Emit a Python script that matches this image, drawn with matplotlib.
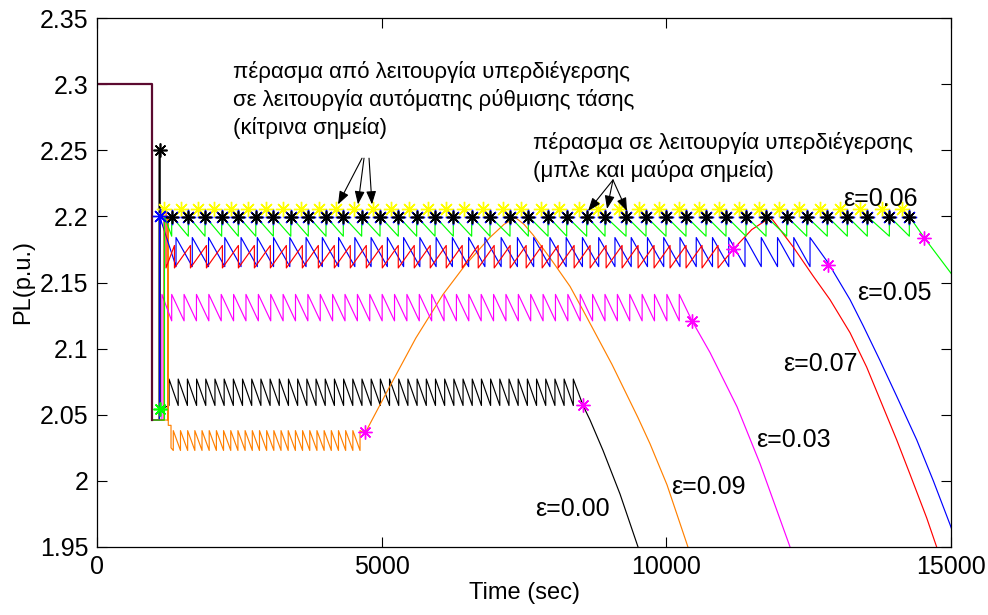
import numpy as np
import matplotlib
matplotlib.use("Agg")
import matplotlib.pyplot as plt

plt.rcParams['font.family'] = ['Liberation Sans', 'DejaVu Sans']

# ---------------- data ----------------
COMMON_T = [0, 966, 966]
COMMON_V = [2.3, 2.3, 2.046]

# black / blue star times (tap changes at ~2.2) and yellow star times
STAR_T = [1312, 1604, 1897, 2190, 2482, 2789, 3097, 3404, 3711, 4022,
          4326, 4649, 4971, 5292, 5615, 5937, 6258, 6581, 6903, 7254,
          7576, 7922, 8250, 8601, 8923, 9292, 9643, 9994, 10345, 10697,
          11048, 11399, 11751, 12114, 12466, 12827, 13179, 13530, 13917, 14268]
STAR_V = 2.1996
YELLOW_T = [1182, 1474, 1767, 2060, 2352, 2659, 2967, 3274, 3581, 3892,
            4196, 4519, 4841, 5162, 5485, 5807, 6128, 6451, 6773, 7124,
            7446, 7792, 8120, 8471, 8793, 9162, 9513, 9864, 10215, 10567,
            10918, 11269, 11621, 11984, 12336, 12697, 13049, 13400, 13787, 14138]
YELLOW_V = 2.2056

# eps = 0.00 (black)
E00_PRE_T = [1090, 1090, 1110, 1110]
E00_PRE_V = [2.046, 2.25, 2.25, 2.054]
E00_TEETH = (1265, 8366, 45)
E00_BAND = (2.057, 2.077)
E00_TAIL_T = [8537, 8660, 8888, 9187, 9503, 9700]
E00_TAIL_V = [2.057, 2.046, 2.023, 1.990, 1.95, 1.922]

# eps = 0.09 (orange)
E09_PRE_T = [1240, 1240, 1252, 1252, 1300, 1300]
E09_PRE_V = [2.046, 2.2, 2.2, 2.042, 2.042, 2.025]
E09_TEETH = (1340, 4620, 27)
E09_BAND = (2.023, 2.038)
E09_TAIL_T = [4707, 5100, 5600, 6078, 6464, 6900, 7150, 7350, 7500, 7659,
              8000, 8309, 8537, 9046, 9500, 9714, 10012, 10364, 10500]
E09_TAIL_V = [2.036, 2.068, 2.108, 2.141, 2.163, 2.184, 2.194, 2.199, 2.194, 2.186,
              2.166, 2.147, 2.129, 2.088, 2.048, 2.028, 1.997, 1.952, 1.934]

# eps = 0.03 (magenta)
E03_PRE_T = [1140, 1140]
E03_PRE_V = [2.046, 2.141]
E03_TEETH = (1312, 10227, 42)
E03_BAND = (2.121, 2.141)
E03_TAIL_T = [10451, 10768, 11242, 11646, 12173, 12300]
E03_TAIL_V = [2.121, 2.097, 2.056, 2.013, 1.95, 1.934]

# eps = 0.07 (red) -- slow rise, sudden drop
E07_PRE_T = [1177, 1177, 1212, 1212]
E07_PRE_V = [2.046, 2.203, 2.203, 2.161]
E07_DROPS = (1360, 10908, 35)
E07_BAND = (2.161, 2.178)
E07_TAIL_T = [11172, 11500, 11822, 11874, 12226, 12577, 12875, 13227, 13519,
              14046, 14280, 14573, 14772, 14900]
E07_TAIL_V = [2.175, 2.19, 2.199, 2.197, 2.177, 2.155, 2.137, 2.112, 2.086,
              2.031, 2.005, 1.972, 1.947, 1.930]

# eps = 0.05 (blue)
E05_PRE_T = [1100, 1100]
E05_PRE_V = [2.046, 2.2]
E05_TEETH = (1388, 12524, 40)
E05_BAND = (2.162, 2.184)
E05_TAIL_T = [12840, 13227, 13461, 13753, 14046, 14398, 14690, 14983, 15100]
E05_TAIL_V = [2.165, 2.137, 2.117, 2.091, 2.064, 2.031, 2.000, 1.967, 1.953]

# eps = 0.06 (green), teeth at the star times
E06_PRE_T = [1185, 1185]
E06_PRE_V = [2.046, 2.2]
E06_BAND = (2.185, 2.2)
E06_TAIL_T = [14527, 14685, 15000, 15100]
E06_TAIL_V = [2.184, 2.175, 2.157, 2.15]

# magenta end-of-plateau stars
END_T = [8537, 4707, 10451, 11172, 12840, 14527]
END_V = [2.057, 2.037, 2.121, 2.175, 2.163, 2.184]

LABELS = ['ε=0.06', 'ε=0.05', 'ε=0.07', 'ε=0.03', 'ε=0.09', 'ε=0.00']
LABEL_T = [13110, 13349, 12049, 11575, 10080, 7693]
LABEL_V = [2.2135, 2.1420, 2.0880, 2.0310, 1.9950, 1.979]

XTICKS = [0, 5000, 10000, 15000]
XTICKLABELS = ['0', '5000', '10000', '15000']
YTICKS = [1.95, 2.0, 2.05, 2.1, 2.15, 2.2, 2.25, 2.3, 2.35]
YTICKLABELS = ['1.95', '2', '2.05', '2.1', '2.15', '2.2', '2.25', '2.3', '2.35']


# ---------------- helpers ----------------
def rise_teeth(times, low, high):
    """vertical rise at each tooth time, linear decline to next tooth"""
    t, v = [], []
    for ti in times:
        t += [ti, ti]
        v += [low, high]
    return t, v


def fall_teeth(times, low, high):
    """linear rise to each drop time, vertical drop"""
    t, v = [], []
    for ti in times:
        t += [ti, ti]
        v += [high, low]
    return t, v


def build(pre_t, pre_v, saw_t, saw_v, tail_t, tail_v):
    t = [COMMON_T[-1]] + list(pre_t) + list(saw_t) + list(tail_t)
    v = [COMMON_V[-1]] + list(pre_v) + list(saw_v) + list(tail_v)
    return t, v


fig = plt.figure(figsize=(9.88, 6.15), dpi=100)
ax = fig.add_axes([97 / 988, 68 / 615, 854 / 988, 529 / 615])

lw = 0.85
orange = '#ff8000'

# eps 0.00
st, sv = rise_teeth(np.linspace(*E00_TEETH), *E00_BAND)
t, v = build(E00_PRE_T, E00_PRE_V, st, sv, E00_TAIL_T, E00_TAIL_V)
ax.plot(t, v, color='black', lw=lw)
# eps 0.09
st, sv = rise_teeth(np.linspace(*E09_TEETH), *E09_BAND)
t, v = build(E09_PRE_T, E09_PRE_V, st, sv, E09_TAIL_T, E09_TAIL_V)
ax.plot(t, v, color=orange, lw=lw)
# eps 0.03
st, sv = rise_teeth(np.linspace(*E03_TEETH), *E03_BAND)
t, v = build(E03_PRE_T, E03_PRE_V, st, sv, E03_TAIL_T, E03_TAIL_V)
ax.plot(t, v, color='#ff00ff', lw=lw)
# eps 0.05
st, sv = rise_teeth(np.linspace(*E05_TEETH), *E05_BAND)
t, v = build(E05_PRE_T, E05_PRE_V, st, sv, E05_TAIL_T, E05_TAIL_V)
ax.plot(t, v, color='#0000ff', lw=lw)
# eps 0.07
st, sv = fall_teeth(np.linspace(*E07_DROPS), *E07_BAND)
t, v = build(E07_PRE_T, E07_PRE_V, st, sv, E07_TAIL_T, E07_TAIL_V)
ax.plot(t, v, color='#ff0000', lw=lw)
# eps 0.06
st, sv = rise_teeth(STAR_T, *E06_BAND)
t, v = build(E06_PRE_T, E06_PRE_V, st, sv, E06_TAIL_T, E06_TAIL_V)
ax.plot(t, v, color='#00ff00', lw=lw)

# common initial path
ax.plot(COMMON_T, COMMON_V, color='#5c0a30', lw=1.6)

ast = (8, 2, 0)
ax.plot(YELLOW_T, [YELLOW_V] * len(YELLOW_T), ls='none', marker=ast, ms=11,
        mew=1.0, color='#ffff00')
ax.plot([1107] + STAR_T, [2.2] + [STAR_V] * len(STAR_T), ls='none', marker=ast,
        ms=11, mew=1.0, color='#0000ff')
ax.plot(STAR_T, [STAR_V] * len(STAR_T), ls='none', marker=ast, ms=9,
        mew=1.2, color='black')
ax.plot([1100], [2.25], ls='none', marker=ast, ms=10, mew=1.2, color='black')
ax.plot([1115], [2.054], ls='none', marker=ast, ms=10, mew=1.2, color='#00ff00')
ax.plot(END_T, END_V, ls='none', marker=ast, ms=10, mew=1.0, color='#ff00ff')

# annotations
fs_ann = 16
ax.text(2389, 2.309, 'πέρασμα από λειτουργία υπερδιέγερσης', fontsize=fs_ann,
        ha='left', va='center')
ax.text(2389, 2.288, 'σε λειτουργία αυτόματης ρύθμισης τάσης', fontsize=fs_ann,
        ha='left', va='center')
ax.text(2389, 2.2668, '(κίτρινα σημεία)', fontsize=fs_ann, ha='left', va='center')
ax.text(7658, 2.2555, 'πέρασμα σε λειτουργία υπερδιέγερσης', fontsize=fs_ann,
        ha='left', va='center')
ax.text(7658, 2.2343, '(μπλε και μαύρα σημεία)', fontsize=fs_ann, ha='left',
        va='center')

arrow_kw = dict(arrowstyle='-|>,head_length=0.8,head_width=0.3', color='black',
                lw=0.8, shrinkA=0, shrinkB=0)
for (x0, y0, x1, y1) in [(4655, 2.244, 4233, 2.209), (4690, 2.244, 4584, 2.209),
                         (4778, 2.244, 4830, 2.209),
                         (9063, 2.2275, 8624, 2.204), (9063, 2.2275, 8958, 2.2056),
                         (9063, 2.2275, 9309, 2.204)]:
    ax.annotate('', xy=(x1, y1), xytext=(x0, y0), arrowprops=arrow_kw)

for lab, tx, vy in zip(LABELS, LABEL_T, LABEL_V):
    ax.text(tx, vy, lab, fontsize=18, ha='left', va='center')

ax.set_xlim(0, 15000)
ax.set_ylim(1.95, 2.35)
ax.set_xticks(XTICKS)
ax.set_xticklabels(XTICKLABELS)
ax.set_yticks(YTICKS)
ax.set_yticklabels(YTICKLABELS)
ax.tick_params(direction='in', length=7, width=0.8, top=True, right=True,
               labelsize=18, pad=6)
for s in ax.spines.values():
    s.set_linewidth(0.9)
ax.set_xlabel('Time (sec)', fontsize=17, labelpad=2)
ax.set_ylabel('PL(p.u.)', fontsize=17, labelpad=4)

fig.savefig('out.png', dpi=100)
